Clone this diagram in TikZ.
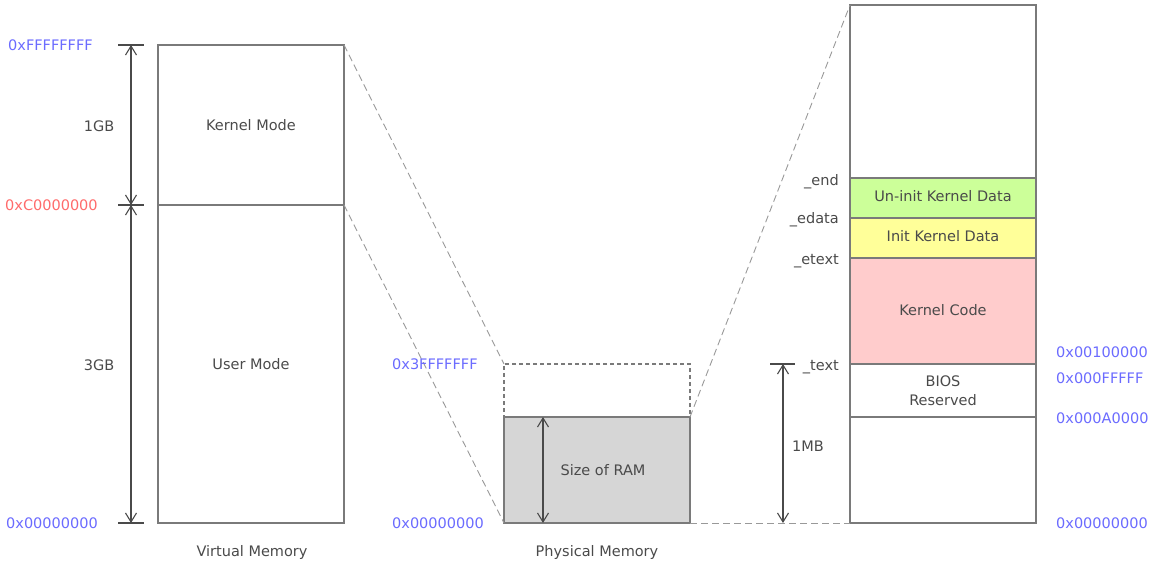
\documentclass[tikz,border=0pt]{standalone}
\usepackage{fontspec}
\setmainfont{DejaVu Sans}
\usetikzlibrary{arrows.meta}
\definecolor{txtgray}{HTML}{4A4A4A}
\definecolor{linegray}{HTML}{7A7A7A}
\definecolor{addrblue}{HTML}{6B6BFF}
\definecolor{addrred}{HTML}{FF6B6B}
\definecolor{bssgreen}{HTML}{CCFF99}
\definecolor{datayellow}{HTML}{FFFF99}
\definecolor{codepink}{HTML}{FFCCCC}
\definecolor{ramgray}{HTML}{D6D6D6}
\tikzset{
  memblk/.style={draw=linegray,line width=1.4pt,minimum width=186pt,anchor=north west,
    inner sep=0pt,outer sep=0pt,text=txtgray,align=center,font=\fontsize{14.5}{19}\selectfont},
  addr/.style={anchor=west,inner sep=0pt,font=\fontsize{14.5}{16}\selectfont},
  lbl/.style={inner sep=0pt,text=txtgray,font=\fontsize{14.5}{16}\selectfont},
  link/.style={draw=gray!80,dash pattern=on 7pt off 4pt,line width=0.9pt},
  dim/.style={draw=txtgray,line width=1.1pt,
    {Straight Barb[length=9pt,width=11pt]}-{Straight Barb[length=9pt,width=11pt]}},
  tick/.style={draw=txtgray,line width=1.1pt}
}
\begin{document}
\begin{tikzpicture}[x=1pt,y=-1pt]
  \useasboundingbox (0,0) rectangle (1154,565);
  % virtual memory
  \node[memblk,minimum height=160pt] (vkern) at (158,45) {Kernel Mode};
  \node[memblk,minimum height=318pt] (vuser) at (158,205) {User Mode};
  % physical memory
  \node[memblk,dash pattern=on 4pt off 3pt,minimum height=53pt] (pfree) at (504,364) {};
  \node[memblk,fill=ramgray,minimum height=106pt] (pram) at (504,417) {\hspace*{12pt}Size of RAM};
  % kernel image in low memory
  \node[memblk,minimum height=173pt] (ktop) at (850,5) {};
  \node[memblk,fill=bssgreen,minimum height=40pt] (kbss) at (850,178) {\raisebox{4pt}{Un-init Kernel Data}};
  \node[memblk,fill=datayellow,minimum height=40pt] (kdata) at (850,218) {\raisebox{4pt}{Init Kernel Data}};
  \node[memblk,fill=codepink,minimum height=106pt] (kcode) at (850,258) {\raisebox{3pt}{Kernel Code}};
  \node[memblk,minimum height=53pt] (bios) at (850,364) {BIOS\\Reserved};
  \node[memblk,minimum height=106pt] (low) at (850,417) {};

  \draw[link] (vkern.north east) -- (pfree.north west);
  \draw[link] (vuser.north east) -- (pram.south west);
  \draw[link] (pram.north east) -- (ktop.north west);
  \draw[link] (pram.south east) -- (low.south west);

  % size marks
  \foreach \a in {vkern.north west,vuser.north west,vuser.south west}
    \draw[tick] ([xshift=-40pt]\a) -- ([xshift=-14pt]\a);
  \draw[dim] ([xshift=-27pt]vkern.north west) -- ([xshift=-27pt]vkern.south west);
  \draw[dim] ([xshift=-27pt]vuser.north west) -- ([xshift=-27pt]vuser.south west);
  \draw[dim] ([xshift=39pt]pram.north west) -- ([xshift=39pt]pram.south west);
  \draw[tick] ([xshift=-80pt]bios.north west) -- ([xshift=-55pt]bios.north west);
  \draw[dim] ([xshift=-67pt]bios.north west) -- ([xshift=-67pt]low.south west);

  \node[lbl] (gb1) at (99,126) {1GB};
  \node[lbl] (gb3) at (99,365) {3GB};
  \node[lbl] (mb1) at (808,446) {1MB};
  \node[lbl] (vname) at (252,552) {Virtual Memory};
  \node[lbl] (pname) at (597,552) {Physical Memory};

  \node[lbl,anchor=base east] (send) at (839,185) {\_end};
  \node[lbl,anchor=base east] (sedata) at (839,223) {\_edata};
  \node[lbl,anchor=base east] (setext) at (839,264) {\_etext};
  \node[lbl,anchor=base east] (stext) at (839,370) {\_text};

  % addresses
  \node[addr,text=addrblue] (vmax) at (8,45) {0xFFFFFFFF};
  \node[addr,text=addrred] (vsplit) at (5,205) {0xC0000000};
  \node[addr,text=addrblue] (vmin) at (6,523) {0x00000000};
  \node[addr,text=addrblue] (pmax) at (392,364) {0x3FFFFFFF};
  \node[addr,text=addrblue] (pmin) at (392,523) {0x00000000};
  \node[addr,text=addrblue] (a1m) at (1056,352) {0x00100000};
  \node[addr,text=addrblue] (abios) at (1056,378) {0x000FFFFF};
  \node[addr,text=addrblue] (avga) at (1056,418) {0x000A0000};
  \node[addr,text=addrblue] (azero) at (1056,523) {0x00000000};
\end{tikzpicture}
\end{document}
